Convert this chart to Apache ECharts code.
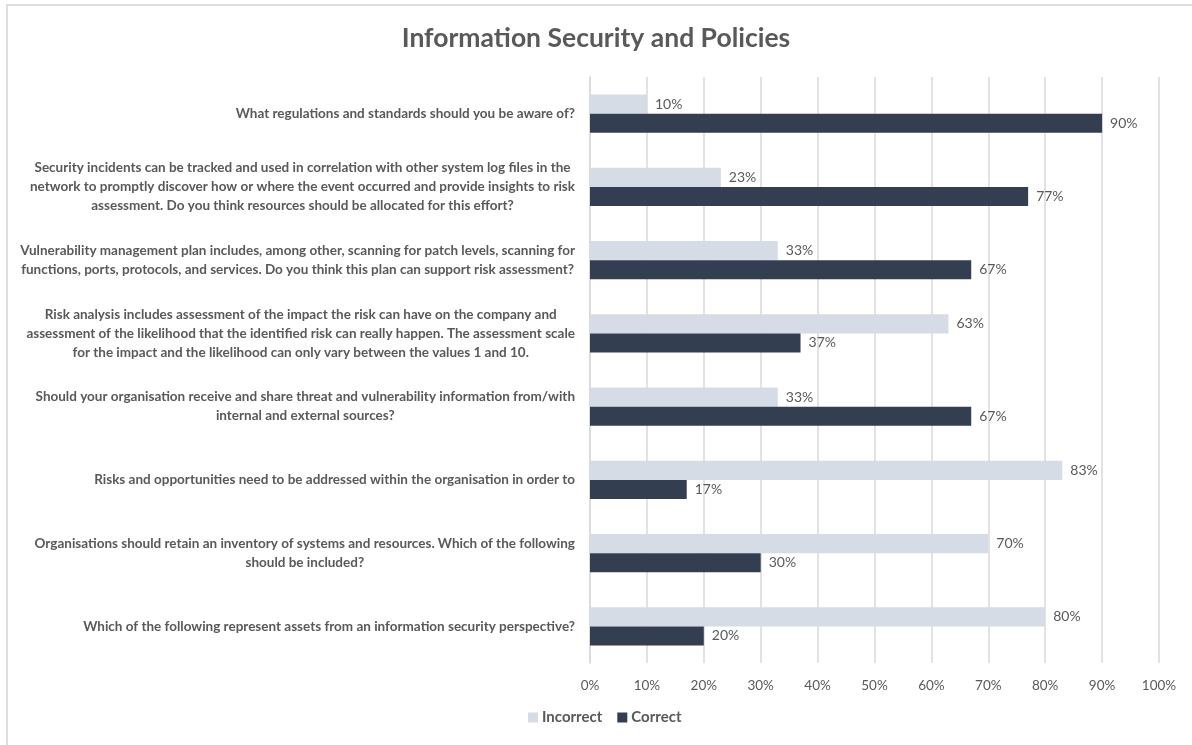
<!DOCTYPE html>
<html>
<head>
<meta charset="utf-8">
<title>Information Security and Policies</title>
<script src="https://cdn.jsdelivr.net/npm/echarts@6/dist/echarts.min.js"></script>
<style>
  html, body { margin: 0; padding: 0; background: #ffffff; overflow: hidden; }
  #frame { position: absolute; left: 6px; top: 4px; width: 1300px; height: 900px;
           border-left: 2px solid #dedede; border-top: 2px solid #dedede; }
  #chart { position: absolute; left: 0; top: 0; width: 1192px; height: 745px; }
</style>
</head>
<body>
<div id="frame"></div>
<div id="chart"></div>
<script>
// Survey questions, top to bottom
const questions = [
  'What regulations and standards should you be aware of?',
  'Security incidents can be tracked and used in correlation with other system log files in the\nnetwork to promptly discover how or where the event occurred and provide insights to risk\nassessment. Do you think resources should be allocated for this effort?',
  'Vulnerability management plan includes, among other, scanning for patch levels, scanning for\nfunctions, ports, protocols, and services. Do you think this plan can support risk assessment?',
  'Risk analysis includes assessment of the impact the risk can have on the company and\nassessment of the likelihood that the identified risk can really happen. The assessment scale\nfor the impact and the likelihood can only vary between the values 1 and 10.',
  'Should your organisation receive and share threat and vulnerability information from/with\ninternal and external sources?',
  'Risks and opportunities need to be addressed within the organisation in order to',
  'Organisations should retain an inventory of systems and resources. Which of the following\nshould be included?',
  'Which of the following represent assets from an information security perspective?'
];

// Share of answers, in percent
const incorrect = [10, 23, 33, 63, 33, 83, 70, 80];
const correct   = [90, 77, 67, 37, 67, 17, 30, 20];

const seriesNames = ['Incorrect', 'Correct'];
const axisTicks = [0, 10, 20, 30, 40, 50, 60, 70, 80, 90, 100];

const FONT = 'Lato, "Noto Sans", sans-serif';
const GREY = '#595959';

const chart = echarts.init(document.getElementById('chart'), null, { renderer: 'canvas' });

const labelStyle = {
  show: true,
  position: 'right',
  distance: 8,
  color: GREY,
  fontFamily: FONT,
  fontSize: 14,
  formatter: p => p.value + '%'
};

chart.setOption({
  animation: false,
  backgroundColor: 'transparent',
  title: {
    text: 'Information Security and Policies',
    left: 'center',
    top: 20,
    textStyle: { color: GREY, fontFamily: FONT, fontWeight: 'bold', fontSize: 26.5 }
  },
  legend: {
    bottom: 15,
    left: 523,
    itemWidth: 10,
    itemHeight: 10,
    itemGap: 15,
    icon: 'rect',
    data: seriesNames,
    textStyle: { color: GREY, fontFamily: FONT, fontWeight: 'bold', fontSize: 15, padding: [0, 0, 0, -1] }
  },
  grid: { left: 590, right: 33, top: 77, bottom: 82, containLabel: false, outerBoundsMode: 'none' },
  xAxis: {
    type: 'value',
    min: axisTicks[0],
    max: axisTicks[axisTicks.length - 1],
    interval: 10,
    axisLine: { show: false },
    axisTick: { show: false },
    splitLine: { show: true, lineStyle: { color: '#d9d9d9', width: 1.5 } },
    axisLabel: {
      color: GREY, fontFamily: FONT, fontSize: 13.5, margin: 16,
      formatter: v => v + '%'
    }
  },
  yAxis: {
    type: 'category',
    inverse: true,
    data: questions,
    axisLine: { show: true, lineStyle: { color: '#d9d9d9', width: 1.5 } },
    axisTick: { show: false },
    axisLabel: {
      margin: 15,
      lineHeight: 19,
      formatter: v => v.split('\n').map(l => '{c|' + l + '}').join('\n'),
      rich: {
        c: { align: 'center', color: GREY, fontFamily: FONT, fontWeight: 'bold', fontSize: 13.5, lineHeight: 19 }
      }
    }
  },
  series: [
    {
      name: seriesNames[0],
      type: 'bar',
      data: incorrect,
      barGap: '0%',
      barCategoryGap: '48%',
      itemStyle: { color: '#d6dce5' },
      label: labelStyle
    },
    {
      name: seriesNames[1],
      type: 'bar',
      data: correct,
      barGap: '0%',
      barCategoryGap: '48%',
      itemStyle: { color: '#333f50' },
      label: labelStyle
    }
  ]
});
</script>
</body>
</html>
